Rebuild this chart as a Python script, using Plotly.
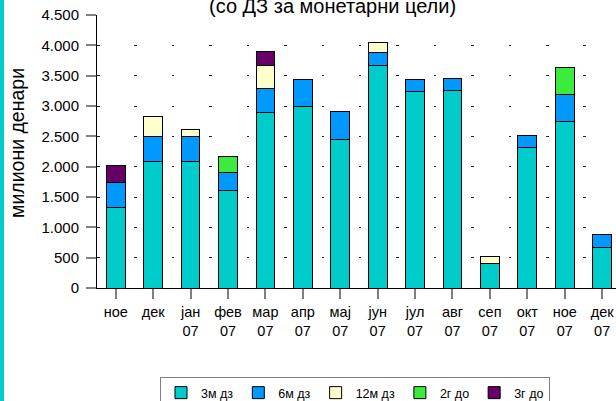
import plotly.graph_objects as go

categories = ["ное", "дек", "јан<br>07", "фев<br>07", "мар<br>07", "апр<br>07", "мај<br>07",
              "јун<br>07", "јул<br>07", "авг<br>07", "сеп<br>07", "окт<br>07", "ное<br>07", "дек<br>07"]

s_3m = [1330, 2090, 2090, 1610, 2890, 3000, 2450, 3665, 3235, 3260, 410, 2320, 2740, 660]
s_6m = [405, 400, 400, 295, 400, 445, 465, 210, 205, 195, 0, 195, 450, 230]
s_12m = [0, 330, 130, 0, 385, 0, 0, 165, 0, 0, 115, 0, 0, 0]
s_2g = [0, 0, 0, 255, 0, 0, 0, 0, 0, 0, 0, 0, 440, 0]
s_3g = [290, 0, 0, 0, 220, 0, 0, 0, 0, 0, 0, 0, 0, 0]

series = [
    ("3м дз", s_3m, "#00CCCC"),
    ("6м дз", s_6m, "#0099FF"),
    ("12м дз", s_12m, "#FFFFCC"),
    ("2г до", s_2g, "#3DEB3D"),
    ("3г до", s_3g, "#660066"),
]

yticks = [0, 500, 1000, 1500, 2000, 2500, 3000, 3500, 4000, 4500]

FONT = "Liberation Sans, Arial, sans-serif"

fig = go.Figure()
for name, vals, color in series:
    fig.add_trace(go.Bar(
        x=list(range(len(categories))), y=vals, name=name,
        marker=dict(color=color, line=dict(color="black", width=1)),
    ))

# figure is a bit taller than the 401px window so the legend box runs past the bottom edge
W, H = 616, 425
L, R, T = 97, 0, 15
ph = 273
B = H - T - ph
pw = W - L - R
cat_w = 37.42

fig.update_layout(
    width=W, height=H,
    barmode="stack", bargap=0.5,
    separators=",.",
    paper_bgcolor="white", plot_bgcolor="white",
    margin=dict(l=L, r=R, t=T, b=B, autoexpand=False),
    font=dict(family=FONT, color="black"),
    showlegend=True,
    legend=dict(
        orientation="h", x=(355 - L) / pw, xanchor="center",
        y=-(377 - (T + ph)) / ph, yanchor="top",
        bordercolor="#808080", borderwidth=1, bgcolor="white",
        font=dict(size=12.5, family=FONT),
        itemwidth=30, traceorder="normal",
    ),
    xaxis=dict(
        tickmode="array", tickvals=list(range(len(categories))), ticktext=categories,
        range=[-0.5, -0.5 + pw / cat_w],
        showline=True, linecolor="black", linewidth=1,
        ticks="outside", ticklen=10, tickcolor="#808080", tickwidth=1.5,
        showgrid=False, zeroline=False,
        tickfont=dict(size=14.5, family=FONT),
        ticklabelstandoff=1,
    ),
    yaxis=dict(
        range=[0, 4500], tickvals=yticks, tickformat=",d",
        showline=True, linecolor="black", linewidth=1,
        ticks="outside", ticklen=10, tickcolor="#808080", tickwidth=1.5,
        showgrid=True, gridcolor="#222222", gridwidth=1,
        griddash="2.5px,%.2fpx" % (cat_w - 2.5),
        zeroline=False,
        tickfont=dict(size=15, family=FONT),
        ticklabelstandoff=4,
    ),
    annotations=[
        dict(text="(со ДЗ за монетарни цели)", xref="paper", yref="paper",
             x=(332 - L) / pw, y=(T + ph - 6) / ph, xanchor="center", yanchor="middle",
             showarrow=False, font=dict(size=20, family=FONT)),
        dict(text="милиони денари", xref="paper", yref="paper",
             x=(17 - L) / pw, y=(T + ph - 143) / ph, xanchor="center", yanchor="middle",
             textangle=-90, showarrow=False, font=dict(size=19.5, family=FONT)),
    ],
    shapes=[
        dict(type="rect", xref="paper", yref="paper",
             x0=(0 - L) / pw, x1=(4 - L) / pw, y0=-2, y1=2,
             fillcolor="#00CCCC", line=dict(width=0), layer="above"),
    ],
)

fig.write_html(
    "out.html",
    config={"displayModeBar": False},
    post_script="document.body.style.margin='0';document.body.style.overflow='hidden';",
)
